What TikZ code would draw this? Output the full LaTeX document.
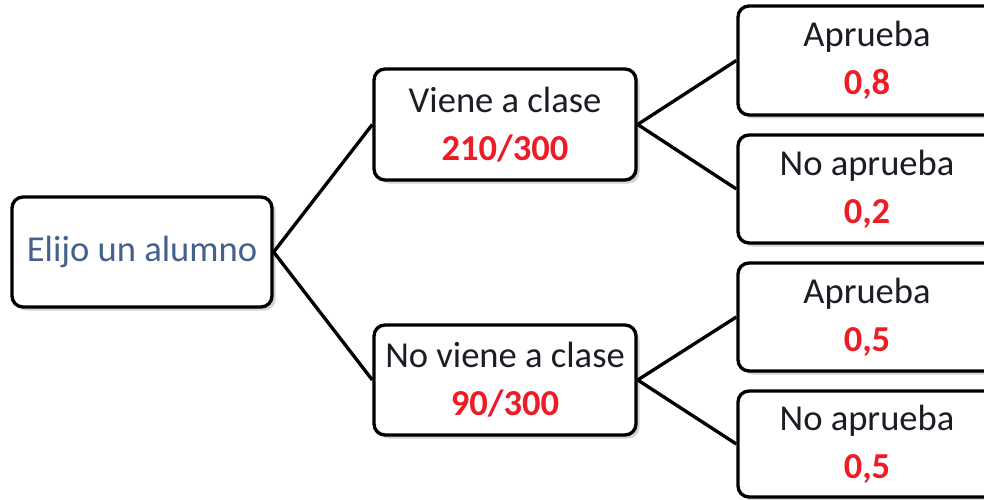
\documentclass[tikz,border=0pt]{standalone}
\usepackage{fontspec}
\setmainfont{Carlito}
\usepackage{xcolor}
\usepackage{tikz}
\usetikzlibrary{shadows}

\definecolor{rootblue}{HTML}{44618E}
\definecolor{probred}{HTML}{EE1C25}
\definecolor{textdark}{HTML}{1C1C24}
\newcommand{\prob}[1]{\textcolor{probred}{\textbf{#1}}}

\tikzset{
  treebox/.style = {draw, line width = 0.95pt, rounded corners = 0.11cm, fill = white,
    align = center, text = textdark, inner sep = 0pt,
    font = \fontsize{10.4}{13.6}\selectfont,
    drop shadow = {shadow xshift = 0.035cm, shadow yshift = -0.035cm, opacity = 0.35}},
  branch/.style = {line width = 0.95pt}
}

\begin{document}
\begin{tikzpicture}

    \useasboundingbox (0,0) rectangle (9.84,4.99);

    % Root
    \node[treebox, minimum width = 2.60cm, minimum height = 1.10cm, text = rootblue]
      (root) at (1.42,2.47) {Elijo un alumno};

    % Second level
    \node[treebox, minimum width = 2.62cm, minimum height = 1.11cm]
      (viene) at (5.05,3.745) {Viene a clase\\ \prob{210/300}};
    \node[treebox, minimum width = 2.62cm, minimum height = 1.10cm]
      (noviene) at (5.05,1.19) {No viene a clase\\ \prob{90/300}};

    % Third level
    \node[treebox, minimum width = 2.58cm, minimum height = 1.09cm]
      (aprueba1) at (8.67,4.385) {Aprueba\\ \prob{0,8}};
    \node[treebox, minimum width = 2.58cm, minimum height = 1.08cm]
      (noaprueba1) at (8.67,3.10) {No aprueba\\ \prob{0,2}};
    \node[treebox, minimum width = 2.58cm, minimum height = 1.08cm]
      (aprueba2) at (8.67,1.82) {Aprueba\\ \prob{0,5}};
    \node[treebox, minimum width = 2.58cm, minimum height = 1.06cm]
      (noaprueba2) at (8.67,0.55) {No aprueba\\ \prob{0,5}};

    % Branches
    \draw[branch] (root.east) -- (viene.west);
    \draw[branch] (root.east) -- (noviene.west);

    \draw[branch] (viene.east) -- (aprueba1.west);
    \draw[branch] (viene.east) -- (noaprueba1.west);

    \draw[branch] (noviene.east) -- (aprueba2.west);
    \draw[branch] (noviene.east) -- (noaprueba2.west);

\end{tikzpicture}
\end{document}
